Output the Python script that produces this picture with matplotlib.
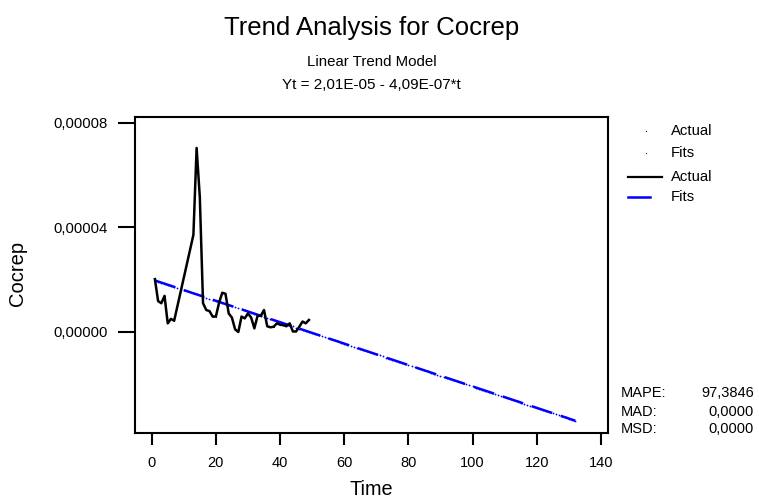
import numpy as np
import matplotlib
matplotlib.use("Agg")
import matplotlib.pyplot as plt
from matplotlib.lines import Line2D
from matplotlib.ticker import FuncFormatter, FixedLocator

plt.rcParams['font.family'] = ['Liberation Sans', 'DejaVu Sans']
plt.rcParams['lines.scale_dashes'] = False

# ---- data ----
actual_t = [1, 2, 3, 4, 5, 6, 7, 13, 14, 15, 16, 17, 18, 19, 20, 21, 22, 23, 24, 25,
            26, 27, 28, 29, 30, 31, 32, 33, 34, 35, 36, 37, 38, 39, 40, 41, 42, 43,
            44, 45, 46, 47, 48, 49]
actual_e5 = [2.02, 1.18, 1.10, 1.38, 0.33, 0.50, 0.43, 3.71, 7.03, 5.15, 1.10, 0.84,
             0.80, 0.59, 0.59, 1.12, 1.50, 1.46, 0.71, 0.55, 0.10, 0.00, 0.59, 0.52,
             0.71, 0.55, 0.14, 0.62, 0.62, 0.84, 0.22, 0.18, 0.20, 0.33, 0.28, 0.26,
             0.22, 0.33, 0.02, 0.02, 0.20, 0.40, 0.33, 0.46]
actual = np.array(actual_e5) * 1e-5

# trend model stated on the chart: Yt = 2,01E-05 - 4,09E-07*t
trend_intercept = 2.01e-05
trend_slope = -4.09e-07
fit_t = np.arange(1, 133)
fits = trend_intercept + trend_slope * fit_t

x_ticks = [0, 20, 40, 60, 80, 100, 120, 140]
y_ticks = [0.0, 0.00004, 0.00008]

stats_labels = ["MAPE:", "MAD:", "MSD:"]
stats_values = ["97,3846", "0,0000", "0,0000"]

# ---- figure ----
W, H = 759, 498
fig = plt.figure(figsize=(W / 100, H / 100), dpi=100)

def fx(px):
    return px / W

def fy(py):
    return 1 - py / H

left, right, top, bottom = 135, 608, 116.7, 433.3
ax = fig.add_axes([fx(left), fy(bottom), (right - left) / W, (bottom - top) / H])

ax.plot(fit_t, fits, color='#0000FF', lw=1.8, linestyle=(0, (15.5, 6.5)),
        marker='.', markersize=2.6, markeredgewidth=0, zorder=2)
ax.plot(actual_t, actual, color='black', lw=1.8, marker='.', markersize=1.6,
        markeredgewidth=0, zorder=3)

ax.set_xlim(-5.2, 142.2)
ax.set_ylim(-3.87e-5, 8.225e-5)
ax.xaxis.set_major_locator(FixedLocator(x_ticks))
ax.yaxis.set_major_locator(FixedLocator(y_ticks))
ax.yaxis.set_major_formatter(FuncFormatter(lambda v, p: f"{v:.5f}".replace('.', ',')))
ax.xaxis.set_major_formatter(FuncFormatter(lambda v, p: f"{v:.0f}"))

for s in ax.spines.values():
    s.set_linewidth(1.5)
ax.tick_params(axis='x', direction='out', length=8.5, width=1.5, pad=7.5, labelsize=10.5)
ax.tick_params(axis='y', direction='out', length=12.2, width=1.5, pad=7.2, labelsize=10.7)

# titles
cx = fx((left + right) / 2)
fig.text(cx, fy(35), "Trend Analysis for Cocrep", ha='center', va='baseline', fontsize=18.5)
fig.text(cx, fy(66), "Linear Trend Model", ha='center', va='baseline', fontsize=10.8)
fig.text(cx, fy(89.3), "Yt = 2,01E-05 - 4,09E-07*t", ha='center', va='baseline', fontsize=11)

# axis labels
fig.text(cx, fy(495), "Time", ha='center', va='baseline', fontsize=14.3)
fig.text(fx(18), fy(273), "Cocrep", ha='center', va='center', rotation=90, fontsize=14.5)

# legend (manual)
leg_text_x = fx(671)
rows = [130.7, 153.3, 176.7, 197.3]
labels = ["Actual", "Fits", "Actual", "Fits"]
fig.add_artist(Line2D([fx(645.7)], [fy(rows[0])], marker='.', markersize=1.8,
                      color='black', markeredgewidth=0, linestyle='none'))
fig.add_artist(Line2D([fx(645.7)], [fy(rows[1])], marker='.', markersize=1.8,
                      color='#0000FF', markeredgewidth=0, linestyle='none'))
fig.add_artist(Line2D([fx(628), fx(662)], [fy(rows[2])] * 2, color='black', lw=1.6))
fig.add_artist(Line2D([fx(628), fx(650)], [fy(rows[3])] * 2, color='#0000FF', lw=1.8))
for r, lab in zip(rows, labels):
    fig.text(leg_text_x, fy(r), lab, ha='left', va='center', fontsize=10.7)

# stats
for r, lab, val in zip([392.7, 411.7, 429.3], stats_labels, stats_values):
    fig.text(fx(620.7), fy(r), lab, ha='left', va='center', fontsize=10.5)
    fig.text(fx(754), fy(r), val, ha='right', va='center', fontsize=10.5)

fig.savefig("out.png", dpi=100)
